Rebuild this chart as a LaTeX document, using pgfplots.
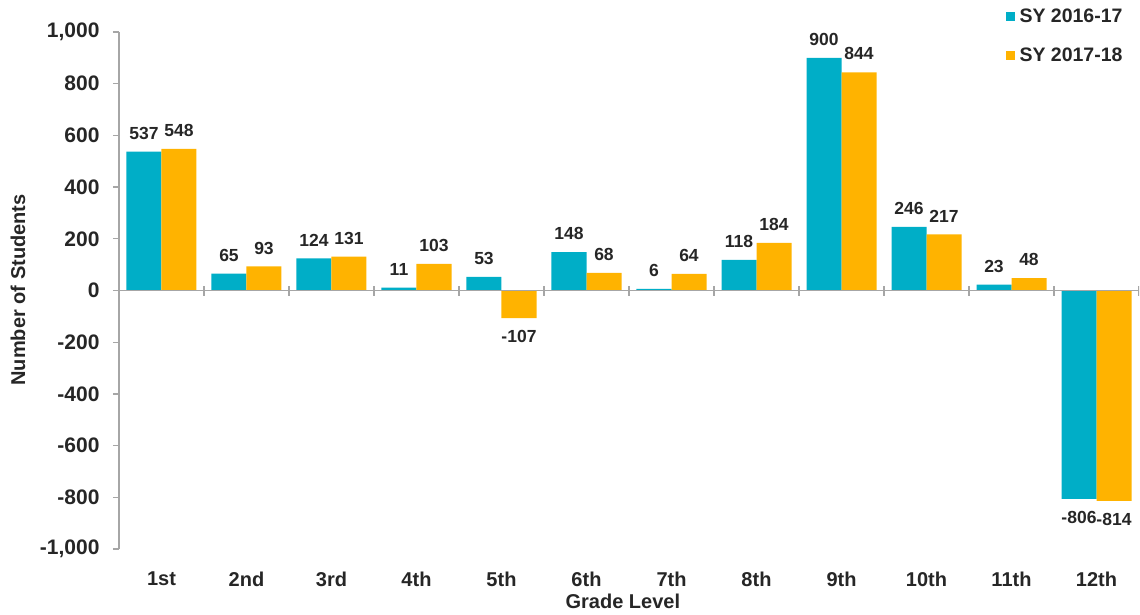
\documentclass[border=0pt]{standalone}
\usepackage{fontspec}
\setmainfont{Liberation Sans}
\usepackage{pgfplots}
\pgfplotsset{compat=1.18}
\definecolor{syteal}{HTML}{00AEC7}
\definecolor{sygold}{HTML}{FFB300}
\definecolor{axgray}{HTML}{A6A6A6}
\definecolor{txt}{HTML}{262626}

\begin{document}
\begin{tikzpicture}
\useasboundingbox (-119pt,-65pt) rectangle (1021pt,549pt);
\begin{axis}[
  scale only axis, width=1020pt, height=517pt,
  xmin=-0.5, xmax=11.5, ymin=-1000, ymax=1000,
  ybar=0pt, bar width=35pt,
  axis y line*=left, axis x line*=bottom,
  x axis line style={draw=none},
  y axis line style={axgray, line width=1.3pt},
  tick align=outside, major tick length=6pt,
  ytick={-1000,-800,...,1000},
  ytick style={axgray, line width=1.3pt},
  xtick={0,...,11},
  xticklabels={1st,2nd,3rd,4th,5th,6th,7th,8th,9th,10th,11th,12th},
  x tick style={draw=none},
  tick label style={font=\bfseries\fontsize{20}{24}\selectfont, text=txt},
  xticklabel style={yshift=-13pt},
  yticklabel style={xshift=-10pt, font=\bfseries\fontsize{21}{25}\selectfont},
  /pgf/number format/assume math mode=true,
  /pgf/number format/1000 sep={,},
  ylabel={Number of Students},
  xlabel={Grade Level},
  label style={font=\bfseries\fontsize{20}{24}\selectfont, text=txt},
  ylabel style={at={(axis description cs:-0.099,0.501)}, anchor=center, rotate=0},
  xlabel style={at={(axis description cs:0.494,-0.1006)}, anchor=center},
  nodes near coords,
  every node near coord/.append style={font=\bfseries\fontsize{17.5}{21}\selectfont, text=txt, inner xsep=0pt, inner ysep=12pt},
  legend style={at={(rel axis cs:0.866,1.053)}, anchor=north west, draw=none, fill=none,
    font=\bfseries\fontsize{19.5}{23}\selectfont, text=txt, row sep=20pt,
    nodes={inner xsep=5pt}},
  legend cell align=left,
  legend image code/.code={\fill[#1] (0pt,-4.5pt) rectangle (9pt,4.5pt);},
]
\addplot[fill=syteal, draw=none] coordinates {
  (0,537) (1,65) (2,124) (3,11) (4,53) (5,148)
  (6,6) (7,118) (8,900) (9,246) (10,23) (11,-806)};
\addplot[fill=sygold, draw=none] coordinates {
  (0,548) (1,93) (2,131) (3,103) (4,-107) (5,68)
  (6,64) (7,184) (8,844) (9,217) (10,48) (11,-814)};
\legend{SY 2016-17, SY 2017-18}
% zero line with category separators
\draw[axgray, line width=1.3pt] ([xshift=-6pt]axis cs:-0.5,0) -- (axis cs:11.5,0);
\pgfplotsinvokeforeach{0,...,11}{
  \draw[axgray, line width=1.3pt] ([yshift=-5pt]axis cs:#1+0.5,0) -- ([yshift=5pt]axis cs:#1+0.5,0);
}
\end{axis}
\end{tikzpicture}
\end{document}
